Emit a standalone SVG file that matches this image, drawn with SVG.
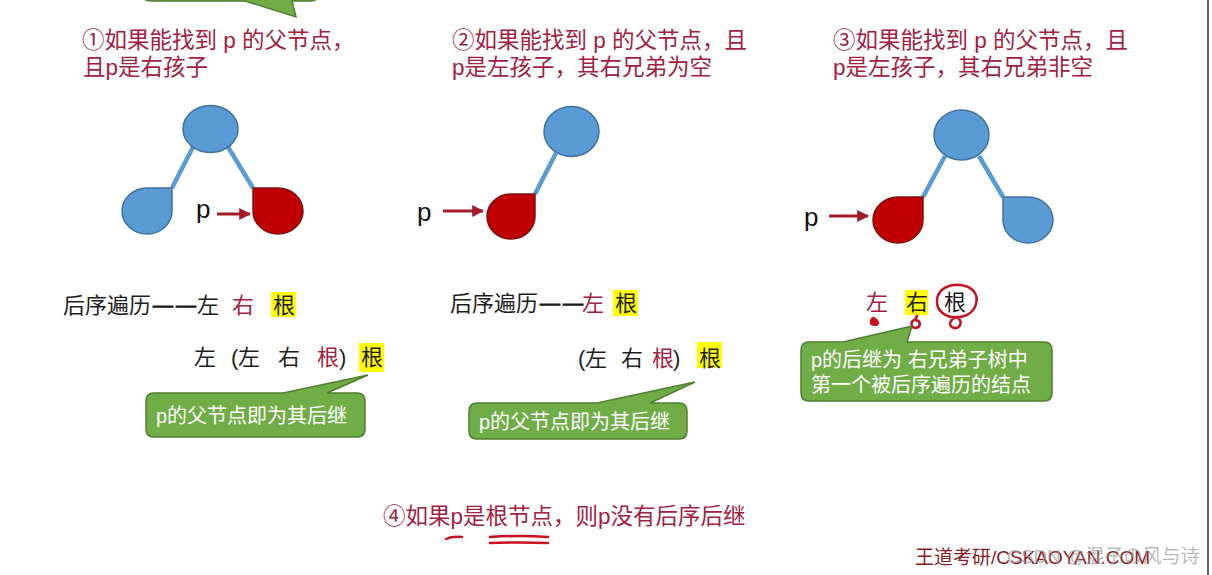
<svg xmlns="http://www.w3.org/2000/svg" width="1212" height="575" viewBox="0 0 1212 575">
<defs>
<marker id="ah" viewBox="0 0 10 10" refX="9" refY="5" markerWidth="4" markerHeight="4" orient="auto" markerUnits="strokeWidth">
<path d="M0,0 L10,5 L0,10 Z" fill="#a31c2a"/>
</marker>
</defs>
<style>
text{font-family:"Liberation Sans","Noto Sans CJK SC",sans-serif;}
.hd{font-size:22.5px;fill:#a3213f;}
.tr{font-size:22px;fill:#1e1e1e;}
.ds{font-size:20px;fill:#1e1e1e;stroke:#1e1e1e;stroke-width:0.9;}
.rd{fill:#a3213f;}
.hl{fill:#ffff00;}
.co{fill:#70ad47;stroke:#4e7f30;stroke-width:1.5;}
.ct{font-size:20px;fill:#ffffff;}
.nb{fill:#5b9bd5;stroke:#41719c;stroke-width:1.5;}
.nr{fill:#c00000;stroke:#7f1010;stroke-width:1.5;}
.ed{stroke:#5b9bd5;stroke-width:4.5;fill:none;}
.ar{stroke:#a31c2a;stroke-width:3;fill:none;}
.pl{font-size:26px;fill:#111111;}
.hm{stroke:#c8101e;stroke-width:2.5;fill:none;stroke-linecap:round;}
</style>
<rect x="0" y="0" width="1212" height="575" fill="#ffffff"/>
<line x1="1208" y1="0" x2="1208" y2="575" stroke="#666666" stroke-width="2"/>

<!-- top partial callout -->
<path class="co" d="M143,-40 L143,-6 Q143,1 150,1 L245,1 L296,17 L292,1 L311,1 Q318,1 318,-6 L318,-40 Z"/>

<!-- headings -->
<g id="heading1">
<text class="hd" x="82" y="48">①如果能找到 p 的父节点，</text>
<text class="hd" x="83" y="75">且p是右孩子</text>
</g>
<g id="heading2">
<text class="hd" x="452" y="48">②如果能找到 p 的父节点，且</text>
<text class="hd" x="452" y="75">p是左孩子，其右兄弟为空</text>
</g>
<g id="heading3">
<text class="hd" x="833" y="48">③如果能找到 p 的父节点，且</text>
<text class="hd" x="833" y="75">p是左孩子，其右兄弟非空</text>
</g>

<!-- connectors -->
<g id="connectors">
<line class="ed" x1="193" y1="147" x2="172" y2="188"/>
<line class="ed" x1="228" y1="147" x2="253" y2="188"/>
<line class="ed" x1="556" y1="153" x2="535" y2="194"/>
<line class="ed" x1="945" y1="156" x2="923" y2="197"/>
<line class="ed" x1="979" y1="156" x2="1003" y2="197"/>
<line class="ar" x1="217" y1="214" x2="250" y2="214" marker-end="url(#ah)"/>
<line class="ar" x1="443" y1="211" x2="483" y2="211" marker-end="url(#ah)"/>
<line class="ar" x1="829" y1="216" x2="868" y2="216" marker-end="url(#ah)"/>
</g>

<!-- tree 1 -->
<g id="t1-root"><ellipse class="nb" cx="210.5" cy="129" rx="27.5" ry="23.5"/></g>
<g id="t1-left"><path class="nb" d="M172,188 L172,211 A25 23 0 1 1 147,188 Z"/></g>
<g id="t1-p"><path class="nr" d="M253,188 L278,188 A25 23 0 1 1 253,211 Z"/><text class="pl" x="196" y="218">p</text></g>

<!-- tree 2 -->
<g id="t2-root"><ellipse class="nb" cx="571.5" cy="131.5" rx="27.5" ry="25"/></g>
<g id="t2-p"><path class="nr" d="M535,194 L535,216 A24 22.5 0 1 1 511,194 Z"/><text class="pl" x="417" y="221">p</text></g>

<!-- tree 3 -->
<g id="t3-root"><ellipse class="nb" cx="961.5" cy="135" rx="27.5" ry="25"/></g>
<g id="t3-p"><path class="nr" d="M923,197 L923,220 A25 23 0 1 1 898,197 Z"/><text class="pl" x="804" y="226">p</text></g>
<g id="t3-right"><path class="nb" d="M1003,197 L1028,197 A25 23 0 1 1 1003,220 Z"/></g>

<!-- traversal texts tree 1 -->
<g id="trav1">
<rect class="hl" x="271" y="292" width="25" height="25"/>
<text class="tr" x="63" y="313">后序遍历</text>
<text class="ds" x="153" y="312">—</text>
<text class="ds" x="176" y="312">—</text>
<text class="tr" x="197" y="313">左</text>
<text class="tr rd" x="232" y="313">右</text>
<text class="tr" x="273" y="313">根</text>
<rect class="hl" x="359" y="343" width="25" height="29"/>
<text class="tr" x="194" y="365">左</text>
<text class="tr" x="231" y="365">(</text>
<text class="tr" x="238" y="365">左</text>
<text class="tr" x="278" y="365">右</text>
<text class="tr rd" x="317" y="365">根</text>
<text class="tr" x="339" y="365">)</text>
<text class="tr" x="361" y="365">根</text>
</g>
<g id="callout1">
<path class="co" d="M154,393 L283,393 L368,375 L327,393 L357,393 Q365,393 365,401 L365,429 Q365,437 357,437 L154,437 Q146,437 146,429 L146,401 Q146,393 154,393 Z"/>
<text class="ct" x="156" y="423">p的父节点即为其后继</text>
</g>

<!-- traversal texts tree 2 -->
<g id="trav2">
<rect class="hl" x="613" y="290" width="25" height="26"/>
<text class="tr" x="450" y="311">后序遍历</text>
<text class="ds" x="540" y="310">—</text>
<text class="ds" x="563" y="310">—</text>
<text class="tr rd" x="582" y="311">左</text>
<text class="tr" x="615" y="311">根</text>
<rect class="hl" x="697" y="342" width="25" height="26"/>
<text class="tr" x="578" y="366">(</text>
<text class="tr" x="585" y="366">左</text>
<text class="tr" x="621" y="366">右</text>
<text class="tr rd" x="652" y="366">根</text>
<text class="tr" x="673" y="366">)</text>
<text class="tr" x="699" y="366">根</text>
</g>
<g id="callout2">
<path class="co" d="M477,403 L597,403 L695,382 L650,403 L679,403 Q687,403 687,411 L687,431 Q687,439 679,439 L477,439 Q469,439 469,431 L469,411 Q469,403 477,403 Z"/>
<text class="ct" x="479" y="429">p的父节点即为其后继</text>
</g>

<!-- traversal texts tree 3 -->
<g id="trav3">
<rect class="hl" x="905" y="290" width="23" height="25"/>
<text class="tr rd" x="866" y="310">左</text>
<text class="tr" x="906" y="310">右</text>
<text class="tr" x="944" y="310">根</text>
<path class="hm" d="M960,317 C945,319 936,310 937,300 C938,288 950,284 960,285 C972,286 979,294 976,304 C974,312 966,317 958,317 C950,318 947,326 954,328 C960,329 963,322 958,318"/>
<path d="M872,317 C868,321 869,327 876,326 C881,325 880,320 874,317 Z" fill="#c8101e"/>
<path class="hm" d="M914,320 C910,322 911,328 916,328 C921,327 921,321 916,320 C915,319 916,317 917,316"/>
</g>
<g id="callout3">
<path class="co" d="M809,342 L843,342 L912,326 L907,342 L1044,342 Q1052,342 1052,350 L1052,393 Q1052,401 1044,401 L809,401 Q801,401 801,393 L801,350 Q801,342 809,342 Z"/>
<text class="ct" x="811" y="367">p的后继为 右兄弟子树中</text>
<text class="ct" x="811" y="392">第一个被后序遍历的结点</text>
</g>

<!-- heading 4 -->
<g id="heading4">
<text class="hd" x="383" y="524">④如果p是根节点，则p没有后序后继</text>
<path class="hm" d="M446,539 Q452,536 462,537"/>
<path class="hm" d="M490,537 Q520,535 548,537"/>
<path class="hm" d="M490,543 Q520,542 548,543"/>
</g>

<!-- watermark -->
<g id="watermark">
<text x="915" y="564" style="font-size:19px;fill:#8b1a1a;">王道考研/CSKAOYAN.COM</text>
<text x="1007" y="563" style="font-size:19px;fill:#9a9a9a;fill-opacity:0.7;">CSDN @混子の风与诗</text>
</g>
</svg>
